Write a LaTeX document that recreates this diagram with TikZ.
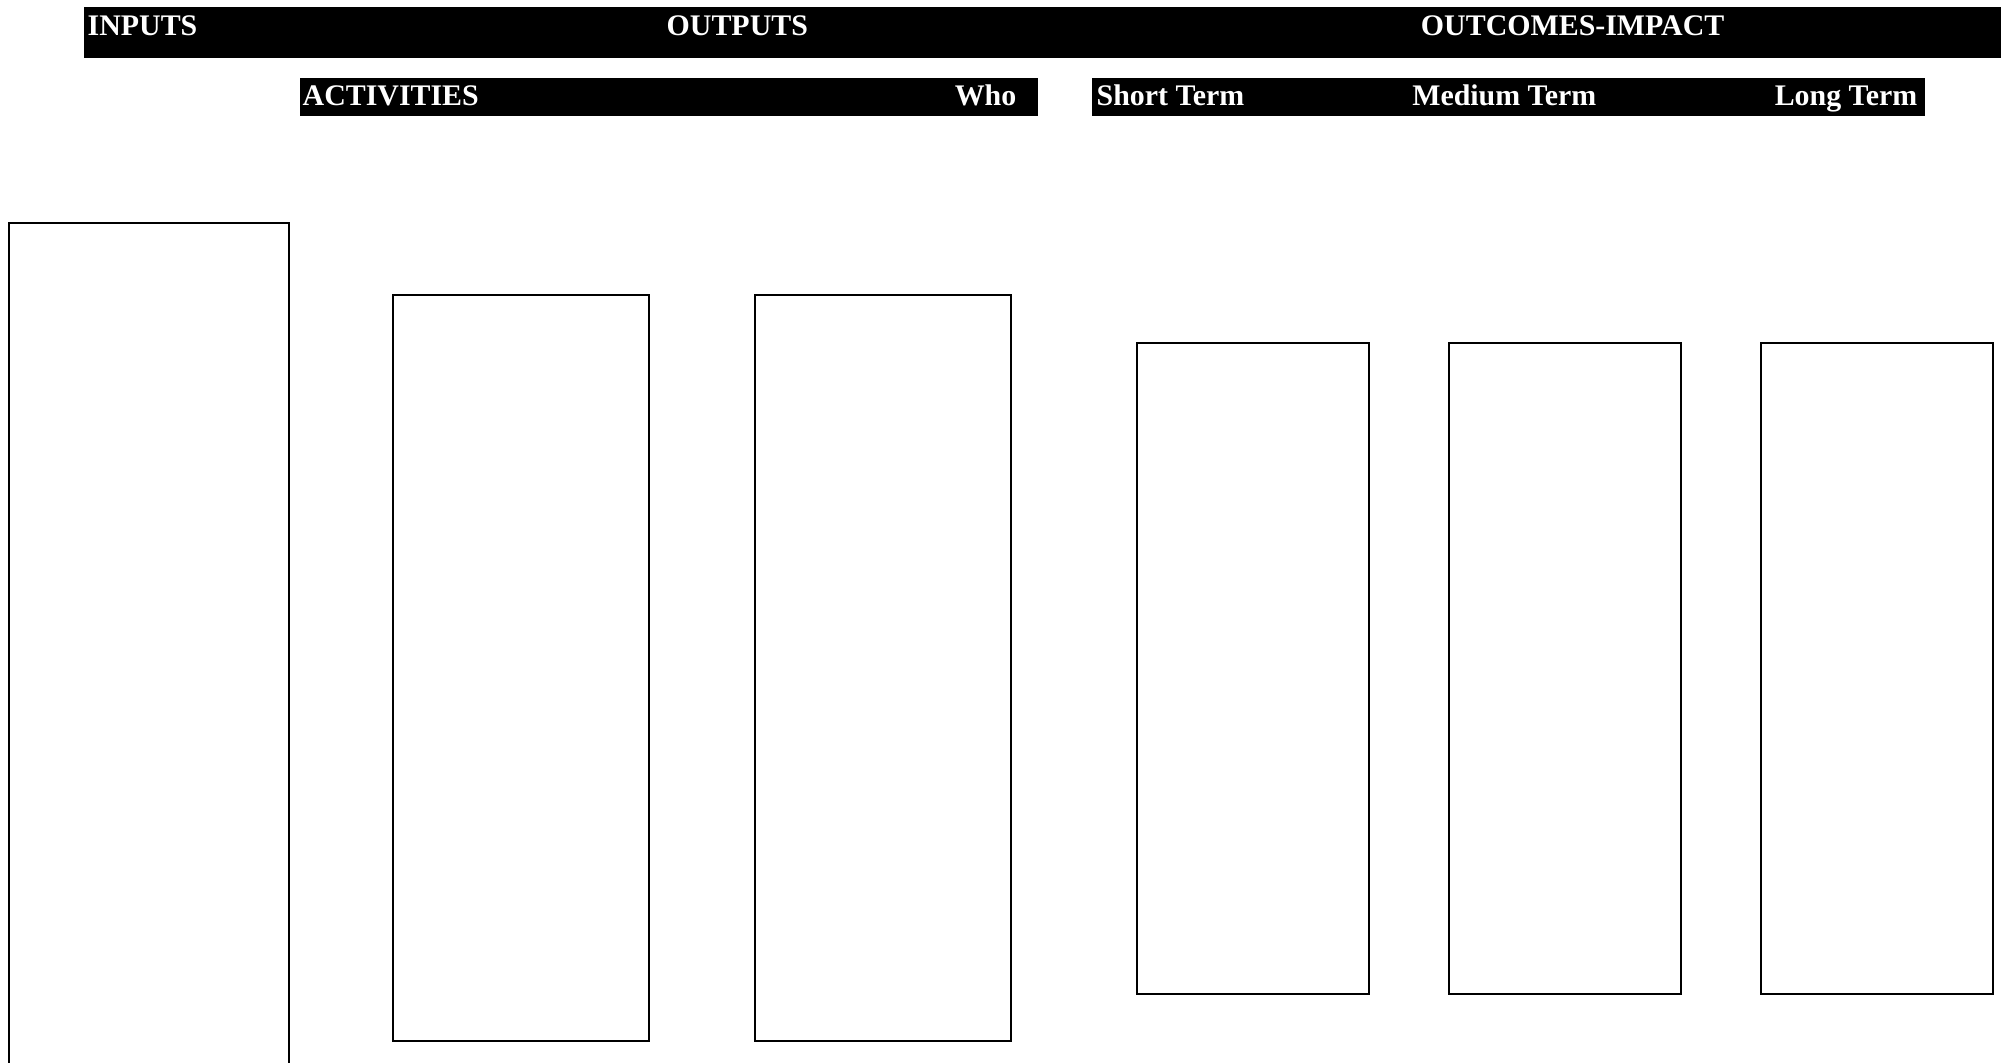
\documentclass[tikz,border=0pt]{standalone}
\usepackage{fontspec}
\setmainfont{Liberation Serif}
\usepackage{tikz}
\usetikzlibrary{positioning}

\begin{document}
\begin{tikzpicture}[x=0.01cm, y=-0.01cm,
    bar/.style={fill=black, inner sep=0pt, anchor=north west},
    head/.style={text=white, font=\fontsize{8.5}{10}\selectfont\bfseries, inner sep=0pt},
    col/.style={draw, line width=0.5pt, inner sep=0pt, anchor=north west}
]
\useasboundingbox (0,0) rectangle (2001,1062);

% heading bars
\node[bar, minimum width=19.18cm, minimum height=0.51cm] (topbar) at (83,6) {};
\node[bar, minimum width=7.38cm, minimum height=0.38cm] (actbar) at (299,77) {};
\node[bar, minimum width=8.33cm, minimum height=0.38cm] (termbar) at (1091,77) {};

\node[head, anchor=base west] (inputs) at (87,35) {INPUTS};
\node[head, anchor=base west] (outputs) at (666,35) {OUTPUTS};
\node[head, anchor=base east] (outcomes) at (1725,35) {OUTCOMES-IMPACT};
\node[head, anchor=base west] (activities) at (302,105) {ACTIVITIES};
\node[head, anchor=base east] (who) at (1017,105) {Who};
\node[head, anchor=base west] (short) at (1096,105) {Short Term};
\node[head, anchor=base east] (medium) at (1597,105) {Medium Term};
\node[head, anchor=base east] (long) at (1918,105) {Long Term};

% columns
\node[col, minimum width=2.80cm, minimum height=8.60cm] (inbox) at (8,222) {};
\node[col, minimum width=2.56cm, minimum height=7.46cm] (actbox) at (392,294) {};
\node[col, minimum width=2.56cm, minimum height=7.46cm] (whobox) at (754,294) {};
\node[col, minimum width=2.32cm, minimum height=6.51cm] (shortbox) at (1136,342) {};
\node[col, minimum width=2.32cm, minimum height=6.51cm] (mediumbox) at (1448,342) {};
\node[col, minimum width=2.32cm, minimum height=6.51cm] (longbox) at (1760,342) {};
\end{tikzpicture}
\end{document}
